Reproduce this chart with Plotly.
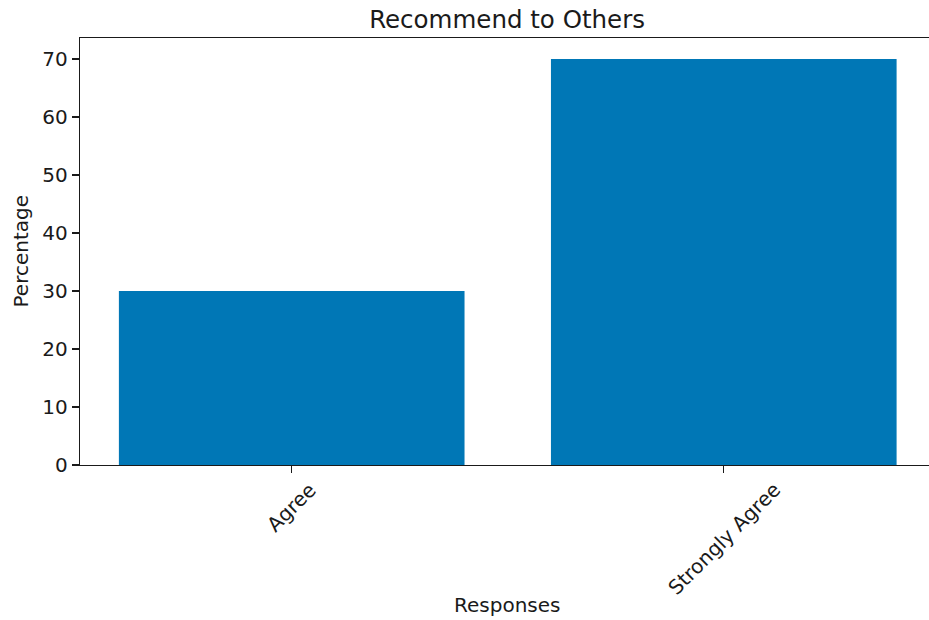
import plotly.graph_objects as go

categories = ["Agree", "Strongly Agree"]
percentages = [30, 70]
y_ticks = [0, 10, 20, 30, 40, 50, 60, 70]

title_text = "Recommend to Others"
x_label = "Responses"
y_label = "Percentage"

BAR_COLOR = "#0077b6"
INK = "#1a1a1a"
FONT = "DejaVu Sans"

fig = go.Figure(
    go.Bar(
        x=categories,
        y=percentages,
        width=0.8,
        marker=dict(color=BAR_COLOR, line=dict(width=0)),
    )
)

annotations = []
for cat in categories:
    annotations.append(dict(
        x=cat, xref="x", y=0, yref="paper",
        text=cat, showarrow=False, textangle=-45,
        xanchor="center", yanchor="top", yshift=-10,
        font=dict(family=FONT, size=20, color=INK),
    ))
annotations.append(dict(
    x=0.503, xref="paper", y=0, yref="paper", yshift=-140,
    text=x_label, showarrow=False, xanchor="center", yanchor="middle",
    font=dict(family=FONT, size=20, color=INK),
))
annotations.append(dict(
    x=0, xref="paper", xshift=-60, y=0.5, yref="paper",
    text=y_label, showarrow=False, textangle=-90,
    xanchor="center", yanchor="middle",
    font=dict(family=FONT, size=20, color=INK),
))

fig.update_layout(
    width=929, height=620,
    margin=dict(l=80, r=0, t=38, b=155, pad=0),
    paper_bgcolor="white", plot_bgcolor="white",
    showlegend=False,
    hovermode=False,
    font=dict(family=FONT, size=20, color=INK),
    title=dict(
        text=title_text, x=0.503, xref="paper", xanchor="center",
        y=1 - 19 / 620, yref="container", yanchor="middle",
        font=dict(family=FONT, size=24.5, color=INK),
    ),
    xaxis=dict(
        type="category", range=[-0.49, 1.475],
        showline=True, linecolor=INK, linewidth=1.3, mirror=True,
        ticks="outside", ticklen=7, tickwidth=1.3, tickcolor=INK,
        showticklabels=False, showgrid=False, zeroline=False,
    ),
    yaxis=dict(
        range=[0, 73.62],
        tickvals=y_ticks,
        showline=True, linecolor=INK, linewidth=1.3, mirror=False,
        ticks="outside", ticklen=7, tickwidth=1.3, tickcolor=INK,
        ticklabelstandoff=0,
        tickfont=dict(family=FONT, size=20, color=INK),
        showgrid=False, zeroline=False,
    ),
    annotations=annotations,
)

fig.write_html(
    "out.html",
    config={"displayModeBar": False, "staticPlot": True},
    post_script="document.body.style.margin='0';document.body.style.overflow='hidden';",
)
